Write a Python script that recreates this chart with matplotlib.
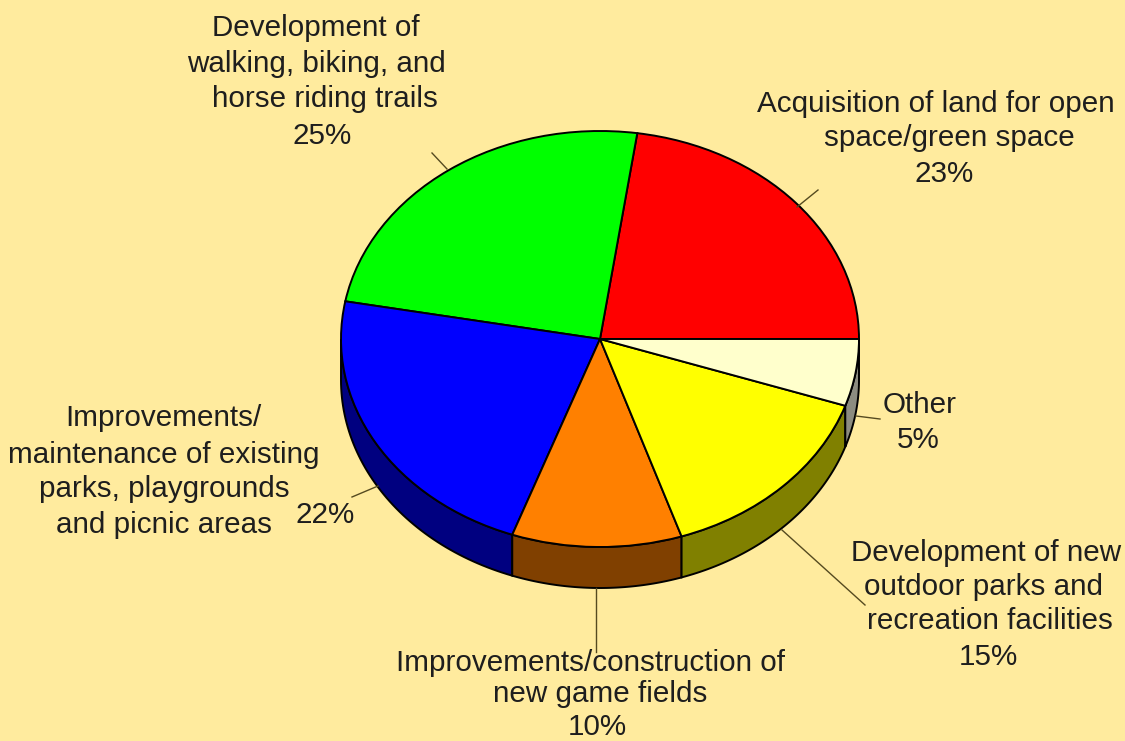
# 3d looking pie, open space survey
import numpy as np
import matplotlib
matplotlib.use("Agg")
import matplotlib.pyplot as plt

# every line of text sits on its own in the picture, not really centred
label_lines = ["Acquisition of land for open", "space/green space", "23%",
               "Development of", "walking, biking, and", "horse riding trails", "25%",
               "Improvements/", "maintenance of existing", "parks, playgrounds",
               "and picnic areas", "22%",
               "Improvements/construction of", "new game fields", "10%",
               "Development of new", "outdoor parks and", "recreation facilities", "15%",
               "Other", "5%"]
# slice sizes as drawn, a bit off the rounded labels
values = [22.7, 24.4, 22.4, 10.6, 14.7, 5.2]
colors = ["#ff0000", "#00ff00", "#0000ff", "#ff8000", "#ffff00", "#ffffcc"]
wall_colors = ["#800000", "#008000", "#000080", "#804000", "#808000", "#8c8c80"]

BG = "#ffeb9e"
RX = 259.0  # pie radius in px
RY = 208.0
CX = 600.0
CY = 339.0
DEPTH = 41.0 / RY

plt.rcParams["font.family"] = ["Liberation Sans", "DejaVu Sans"]

fig = plt.figure(figsize=(11.25, 7.41), dpi=100, facecolor=BG)
ax = fig.add_axes([0, 0, 1, 1])
ax.set_facecolor(BG)
ax.axis("off")


def px(x, y):
    # picture pixels to pie units
    return (x - CX) / RX, (CY - y) / RY


# side wall, only the front half (180-360 deg) shows
edges = np.concatenate([[0], np.cumsum(values)]) * 3.6
for i in range(len(values)):
    a0 = max(edges[i], 180)
    a1 = edges[i + 1]
    if a1 <= a0:
        continue
    t = np.radians(np.linspace(a0, a1, 60))
    xs = np.cos(t)
    ys = np.sin(t)
    ax.fill(np.r_[xs, xs[::-1]], np.r_[ys, ys[::-1] - DEPTH],
            facecolor=wall_colors[i], edgecolor="black", linewidth=1.4)

ax.pie(values, colors=colors, startangle=0, radius=1, center=(0, 0),
       wedgeprops={"edgecolor": "black", "linewidth": 1.4})

ax.set_aspect("auto")
ax.set_xlim(-CX / RX, (1125 - CX) / RX)
ax.set_ylim((CY - 741) / RY, CY / RY)

# leader lines
leaders = [((797, 207), (818, 190)),
           ((447, 169), (432, 153)),
           ((352, 497), (378, 486)),
           ((596, 588), (596, 652)),
           ((782, 530), (865, 605)),
           ((856, 416), (880, 419))]
for p0, p1 in leaders:
    x0, y0 = px(*p0)
    x1, y1 = px(*p1)
    ax.plot([x0, x1], [y0, y1], color="#554a20", linewidth=1.0)

FS = 21.3
# line centre x, baseline y in picture pixels
line_pos = [(936, 112), (949, 146), (944, 182),
            (316, 36), (316, 72), (325, 107), (322, 144),
            (163, 426), (164, 463), (164, 497), (164, 533), (325, 523),
            (590, 671), (600, 702), (597, 735),
            (986, 561), (983, 595), (990, 629), (988, 665),
            (920, 413), (918, 448)]
for text, (x, y) in zip(label_lines, line_pos):
    ax.text(*px(x, y), text, ha="center", va="baseline", fontsize=FS, color="#1e1e1e")

fig.savefig("out.png", dpi=100, facecolor=BG)
